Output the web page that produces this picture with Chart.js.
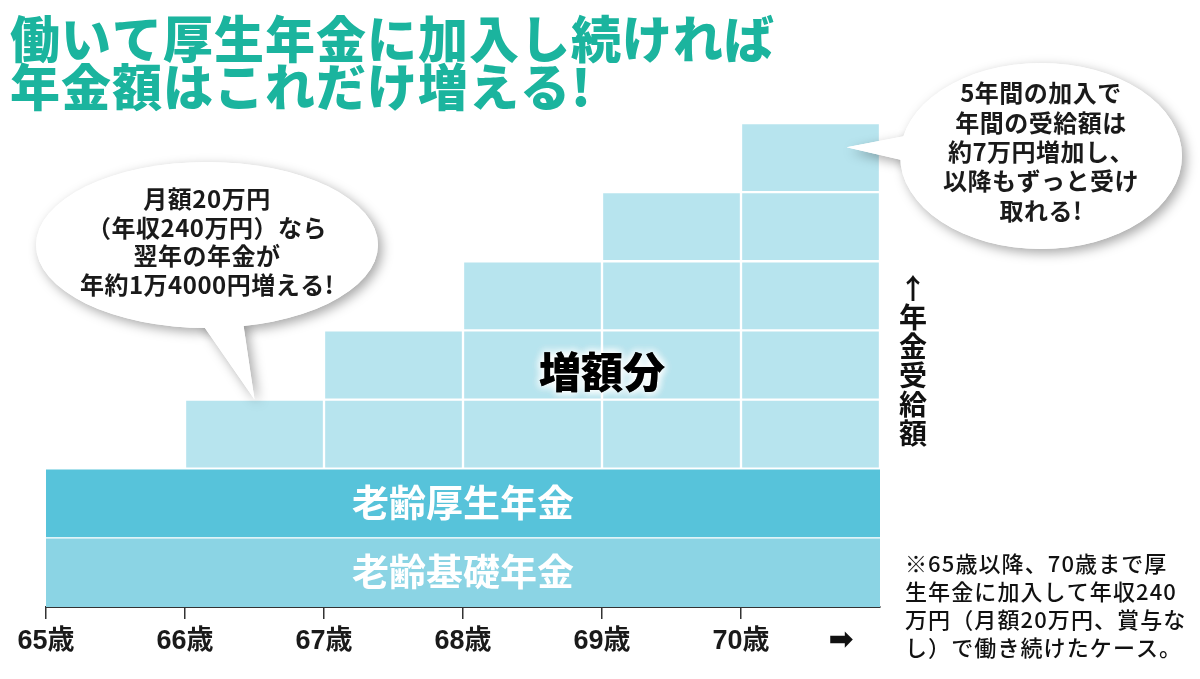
<!DOCTYPE html>
<html>
<head>
<meta charset="utf-8">
<script src="https://cdn.jsdelivr.net/npm/chart.js@4/dist/chart.umd.min.js"></script>
<style>
body { margin: 0; background: #fff; }
</style>
</head>
<body>
<canvas id="graph" width="1200" height="679"></canvas>
<script>
var ages = ['65', '66', '67', '68', '69', '70'];
var kiso = [1, 1, 1, 1, 1, 1];        // 老齢基礎年金
var kosei = [1, 1, 1, 1, 1, 1];       // 老齢厚生年金
var zougaku = [0, 1, 2, 3, 4, 5];     // 増額分 (blocks per year)
var tickMin = 65, tickMax = 71;

var title = ['働いて厚生年金に加入し続ければ', '年金額はこれだけ増える!'];
var bubbleLeft = ['月額20万円', '（年収240万円）なら', '翌年の年金が', '年約1万4000円増える!'];
var bubbleRight = ['5年間の加入で', '年間の受給額は', '約7万円増加し、', '以降もずっと受け', '取れる!'];
var note = ['※65歳以降、70歳まで厚', '生年金に加入して年収240', '万円（月額20万円、賞与な', 'し）で働き続けたケース。'];
var yTitle = ['↑', '年', '金', '受', '給', '額'];

var JP = '"Noto Sans CJK JP", "Noto Sans", sans-serif';

var datasets = [
  { label: '老齢基礎年金', data: kiso, backgroundColor: '#8bd4e4', borderColor: '#fff',
    borderWidth: { top: 1, bottom: 0, left: 0, right: 0 }, borderSkipped: false },
  { label: '老齢厚生年金', data: kosei, backgroundColor: '#57c3da', borderColor: '#fff',
    borderWidth: { top: 1, bottom: 1, left: 0, right: 0 }, borderSkipped: false }
];
for (var k = 1; k <= 5; k++) {
  datasets.push({
    label: '増額分' + k,
    data: zougaku.map(function (n) { return n >= k ? 1 : null; }),
    backgroundColor: '#b7e4ee', borderColor: '#fff', borderWidth: 1.5, borderSkipped: false
  });
}
datasets.forEach(function (d) {
  d.xAxisID = 'xb';
  d.barPercentage = 1;
  d.categoryPercentage = 1;
});

function bubbleShape(c, cx, cy, rx, ry, tail) {
  c.beginPath();
  c.ellipse(cx, cy, rx, ry, 0, 0, Math.PI * 2);
  c.fill();
  c.beginPath();
  c.moveTo(tail[0], tail[1]);
  c.lineTo(tail[2], tail[3]);
  c.lineTo(tail[4], tail[5]);
  c.closePath();
  c.fill();
}

function bubble(c, cx, cy, rx, ry, tail) {
  c.save();
  c.fillStyle = '#fff';
  c.shadowColor = 'rgba(0,0,0,0.35)';
  c.shadowBlur = 12;
  c.shadowOffsetX = 4;
  c.shadowOffsetY = 4;
  bubbleShape(c, cx, cy, rx, ry, tail);
  c.restore();
  c.fillStyle = '#fff';
  bubbleShape(c, cx, cy, rx, ry, tail);
}

var deco = {
  id: 'deco',
  afterDatasetsDraw: function (chart) {
    var c = chart.ctx, xs = chart.scales.x, ys = chart.scales.y;
    c.save();
    c.textAlign = 'center';
    c.textBaseline = 'middle';

    // band labels
    var mid = (xs.left + xs.right) / 2;
    c.fillStyle = '#fff';
    c.font = 'bold 37px ' + JP;
    c.fillText('老齢基礎年金', mid, ys.getPixelForValue(0.5));
    c.fillText('老齢厚生年金', mid, ys.getPixelForValue(1.5));

    // 増額分 with white glow
    c.font = '900 42px ' + JP;
    c.shadowColor = '#fff';
    c.shadowBlur = 10;
    c.fillStyle = '#000';
    for (var i = 0; i < 3; i++) c.fillText('増額分', xs.getPixelForValue(69), ys.getPixelForValue(3.4));
    c.shadowBlur = 0;
    c.shadowColor = 'transparent';

    // speech bubbles
    var tipL = [xs.getPixelForValue(66.5), ys.getPixelForValue(3)];
    bubble(c, 207, 245, 171, 83, [198, 318, tipL[0], tipL[1], 243, 322]);
    var tipR = [xs.getPixelForValue(70.76), ys.getPixelForValue(6.65)];
    bubble(c, 1041, 156, 141, 93, [910, 135, tipR[0], tipR[1], 910, 162]);

    c.fillStyle = '#1a1a1a';
    c.font = 'bold 24px ' + JP;
    c.letterSpacing = '0.5px';
    bubbleLeft.forEach(function (t, i) { c.fillText(t, 207, 199 + i * 28.5); });
    bubbleRight.forEach(function (t, i) { c.fillText(t, 1041, 93 + i * 29.4); });
    c.letterSpacing = '0px';

    // vertical axis label
    c.font = 'bold 28px ' + JP;
    c.fillStyle = '#111';
    yTitle.forEach(function (t, i) { c.fillText(t, 913, 288 + i * 29); });

    // arrow after last tick
    c.font = 'bold 30px "DejaVu Sans"';
    c.fillText('➡', xs.getPixelForValue(70.72), 641);

    // footnote
    c.textAlign = 'left';
    c.font = '500 22px ' + JP;
    c.letterSpacing = '1.1px';
    note.forEach(function (t, i) { c.fillText(t, 905, 564 + i * 28); });
    c.letterSpacing = '0px';

    // title
    c.textBaseline = 'alphabetic';
    c.font = '900 50px ' + JP;
    c.letterSpacing = '1px';
    c.fillStyle = '#1bb49e';
    c.fillText(title[0], 10, 58);
    c.fillText(title[1], 10, 106);
    c.restore();
  }
};

var graph = new Chart(document.getElementById('graph').getContext('2d'), {
  type: 'bar',
  data: { labels: ages, datasets: datasets },
  options: {
    responsive: false,
    animation: false,
    devicePixelRatio: 1,
    layout: { padding: { left: 46, top: 123, right: 320, bottom: 0 } },
    plugins: { legend: { display: false }, tooltip: { enabled: false } },
    scales: {
      xb: { type: 'category', labels: ages, offset: true, display: false, stacked: true },
      x: {
        type: 'linear', min: tickMin, max: tickMax, position: 'bottom', offset: false,
        afterFit: function (s) { s.height = 72; },
        ticks: {
          stepSize: 1, autoSkip: false, maxRotation: 0, padding: 6, color: '#1a1a1a',
          font: { family: '"Liberation Sans", "Noto Sans CJK JP"', size: 27, weight: 'bold' },
          callback: function (v) { return v < tickMax ? v + '歳' : ''; }
        },
        grid: {
          offset: false, drawOnChartArea: false, tickLength: 12, lineWidth: 1.5,
          tickColor: function (ctx) { return ctx.tick && ctx.tick.value === tickMax ? 'rgba(0,0,0,0)' : '#333'; }
        },
        border: { color: '#333', width: 2 }
      },
      y: { stacked: true, min: 0, max: 7, display: false }
    }
  },
  plugins: [deco]
});
</script>
</body>
</html>
